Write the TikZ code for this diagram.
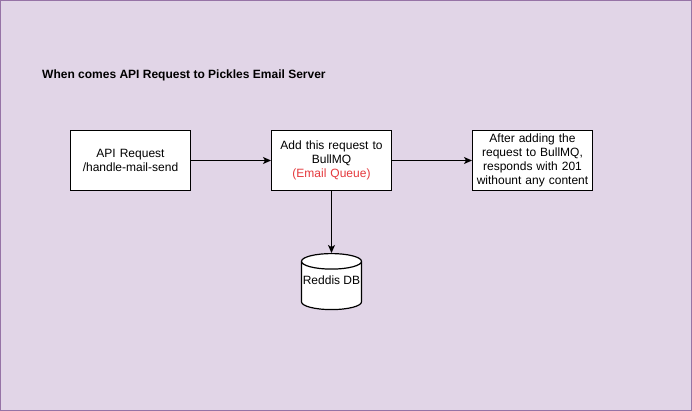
\documentclass[tikz,border=0pt]{standalone}
\usepackage{xcolor}
\usepackage{fontspec}
\setmainfont{Liberation Sans}
\usepackage{tikz}
\usetikzlibrary{shapes,shapes.geometric,arrows,arrows.meta,positioning}

\definecolor{canvasbg}{HTML}{E1D5E7}
\definecolor{canvasline}{HTML}{9673A6}
\definecolor{queuered}{HTML}{E5393D}

\begin{document}
\begin{tikzpicture}[
      x=1pt, y=-1pt,
      node distance=80pt,
      every node/.style={font=\fontsize{12}{14}\selectfont},
      block/.style={rectangle, draw, line width=1pt, fill=white, text width=114pt, align=center, minimum width=120pt, minimum height=60pt, inner sep=0pt},
      store/.style={cylinder, shape border rotate=90, draw, line width=1.2pt, fill=white, aspect=0.27, minimum width=60pt, minimum height=56pt, inner sep=0pt},
      arrow/.style={line width=1pt,->,>={Stealth[length=8pt,width=7pt,inset=2pt]}}
    ]
      \useasboundingbox (0,0) rectangle (692,411);
      \draw[canvasline, fill=canvasbg, line width=1pt] (0.5,0.5) rectangle (691.5,410.5);

      \node [anchor=west, inner sep=0pt, font=\fontsize{12}{14}\selectfont\bfseries] (title) at (42,75) {When comes API Request to Pickles Email Server};

      \node [block, anchor=north west] (request) at (70,130) {API Request\\/handle-mail-send};
      \node [block, right=of request] (queue) {Add this request to\\BullMQ\\\textcolor{queuered}{(Email Queue)}};
      \node [block, right=of queue] (reply) {After adding the\\request to BullMQ,\\responds with 201\\withount any content};
      \node [store, below=62pt of queue, label={[inner sep=0pt, yshift=-3pt]shape center:Reddis DB}] (redis) {\phantom{Reddis DB}};

      \draw [arrow] (request) -- (queue);
      \draw [arrow] (queue) -- (reply);
      \draw [arrow] (queue) -- (redis);
    \end{tikzpicture}
\end{document}
